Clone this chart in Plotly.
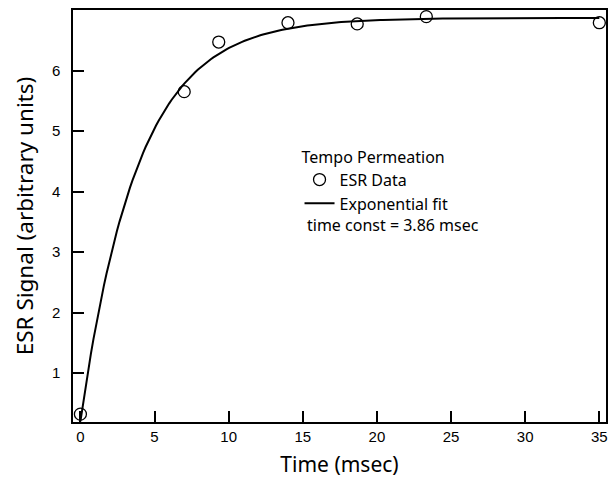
import numpy as np
import plotly.graph_objects as go

# ESR data
time_ms = [0.0, 7.0, 9.33, 14.0, 18.67, 23.33, 35.0]
esr_signal = [0.32, 5.65, 6.47, 6.79, 6.77, 6.89, 6.79]

# exponential fit parameters
fit_plateau = 6.87
fit_start = 0.20
fit_tau = 3.86
fit_t = np.linspace(0, 35, 200)
fit_y = fit_plateau - (fit_plateau - fit_start) * np.exp(-fit_t / fit_tau)

x_ticks = [0, 5, 10, 15, 20, 25, 30, 35]
y_ticks = [1, 2, 3, 4, 5, 6]

font_main = "Noto Sans, DejaVu Sans, sans-serif"
font_tick = "Liberation Sans, Arial, sans-serif"

fig = go.Figure()
fig.add_trace(go.Scatter(
    x=time_ms, y=esr_signal, mode="markers", name="ESR Data",
    marker=dict(symbol="circle-open", size=12, color="black", line=dict(width=1.3, color="black")),
))
fig.add_trace(go.Scatter(
    x=fit_t, y=fit_y, mode="lines", name="Exponential fit",
    line=dict(color="black", width=2),
))

fig.update_layout(
    width=613, height=478,
    margin=dict(l=73, r=5, t=10, b=55),
    paper_bgcolor="white", plot_bgcolor="white",
    showlegend=True,
    legend=dict(
        x=0.425, y=0.68, xanchor="left", yanchor="top",
        bgcolor="rgba(0,0,0,0)",
        title=dict(text="Tempo Permeation", font=dict(size=16, family=font_main, color="black")),
        font=dict(size=16, family=font_main, color="black"),
        tracegroupgap=0, itemwidth=30,
    ),
    annotations=[dict(
        text="time const = 3.86 msec", xref="paper", yref="paper",
        x=0.4345, y=0.477, xanchor="left", yanchor="middle", showarrow=False,
        font=dict(size=16, family=font_main, color="black"),
    )],
)
fig.update_xaxes(
    range=[-0.5, 35.45], tickvals=x_ticks, ticks="inside", ticklen=11, tickwidth=1.5,
    tickcolor="black", showline=True, linecolor="black", linewidth=1.5, mirror=True,
    showgrid=False, zeroline=False,
    tickfont=dict(size=15, family=font_tick, color="black"),
    title=dict(text="Time (msec)", font=dict(size=21, family=font_main, color="black"), standoff=14),
)
fig.update_yaxes(
    range=[0.19, 7.0], tickvals=y_ticks, ticks="inside", ticklen=11, tickwidth=1.5,
    tickcolor="black", showline=True, linecolor="black", linewidth=1.5, mirror=True,
    showgrid=False, zeroline=False, ticklabelstandoff=8,
    tickfont=dict(size=15, family=font_tick, color="black"),
    title=dict(text="ESR Signal (arbitrary units)", font=dict(size=22.5, family=font_main, color="black"), standoff=12),
)

fig.write_html("out.html")
